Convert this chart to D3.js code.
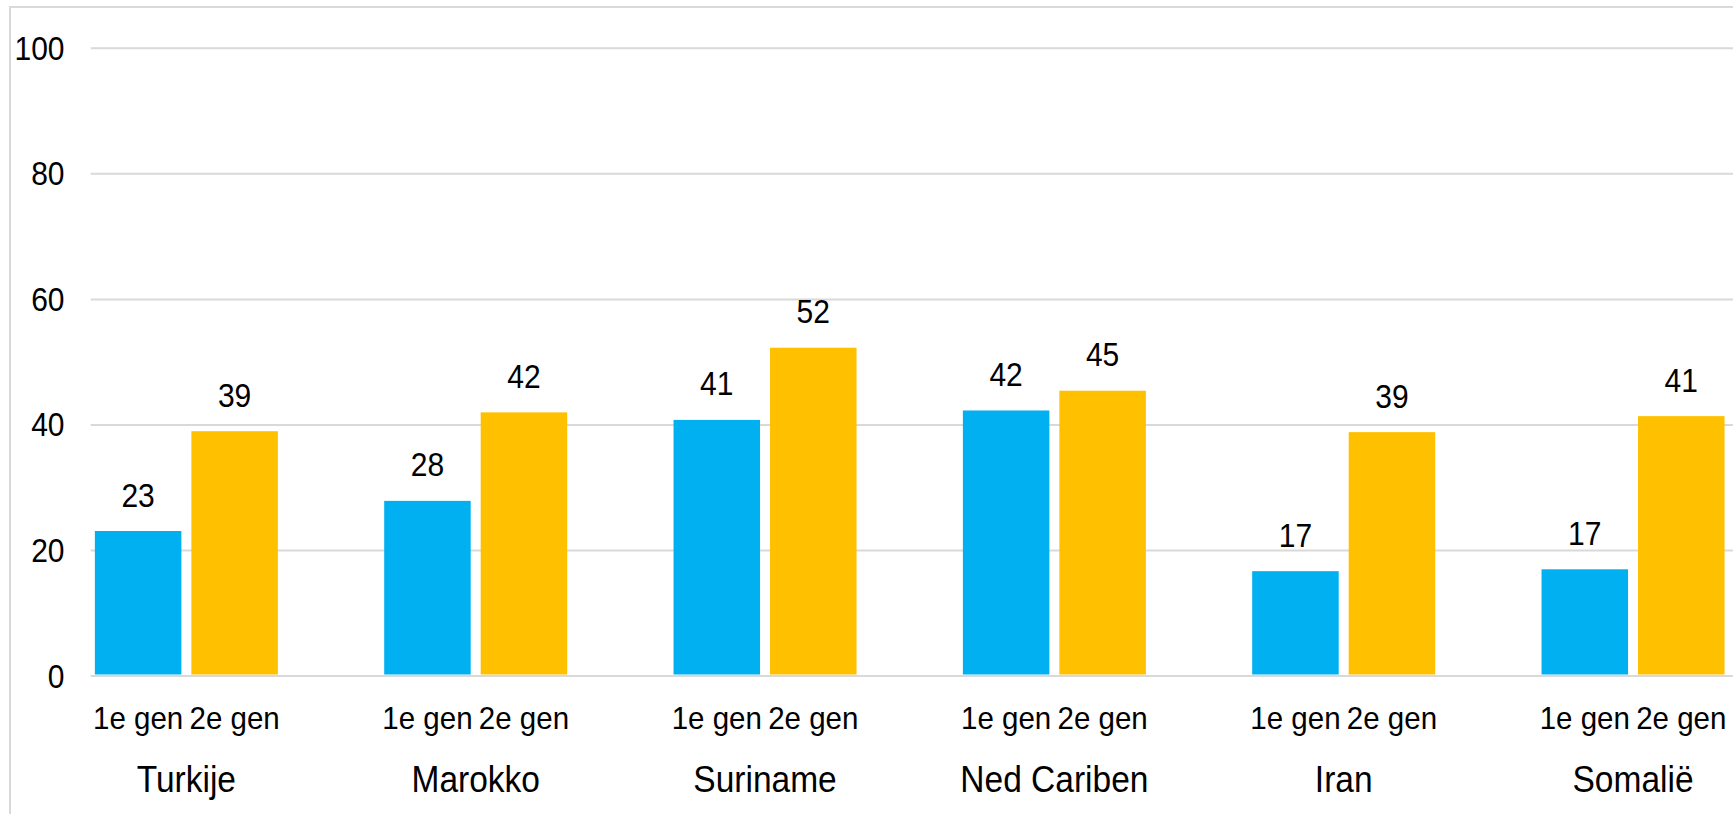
<!DOCTYPE html>
<html>
<head>
<meta charset="utf-8">
<script src="https://cdn.jsdelivr.net/npm/d3@7"></script>
<style>
  html, body { margin: 0; padding: 0; background: #fff; }
  svg { display: block; font-family: "Liberation Sans", Arial, sans-serif; }
</style>
</head>
<body>
<svg id="chart" width="1733" height="814"></svg>
<script>
const categories = ["Turkije", "Marokko", "Suriname", "Ned Cariben", "Iran", "Somalië"];
const seriesNames = ["1e gen", "2e gen"];
const gen1 = [23.1, 27.9, 40.8, 42.3, 16.7, 17.0];
const gen2 = [39.0, 42.0, 52.3, 45.45, 38.85, 41.4];
const yTicks = [0, 20, 40, 60, 80, 100];
const colors = ["#00B0F0", "#FFC000"];

const svg = d3.select("#chart");
const W = 1733, H = 814;
const SY = 1.08; // vertical stretch of glyphs seen in the reference

const y = d3.scaleLinear().domain([0, 100]).range([676, 48.3]);
const x0 = d3.scaleBand().domain(categories).range([41.7, 1777.7]).padding(0);
const inner = 183;
const gw = x0.bandwidth();
const x1 = d3.scaleBand().domain(seriesNames)
  .range([(gw - inner) / 2, (gw + inner) / 2]).paddingInner(0.1036).paddingOuter(0);

// chart border (left + top)
svg.append("path")
  .attr("d", `M10,${H} L10,7 L${W},7`)
  .attr("fill", "none").attr("stroke", "#d9d9d9").attr("stroke-width", 2);

// gridlines
svg.append("g").selectAll("line").data(yTicks).join("line")
  .attr("x1", 90.7).attr("x2", W)
  .attr("y1", d => y(d)).attr("y2", d => y(d))
  .attr("stroke", "#d9d9d9").attr("stroke-width", 2);

// y axis labels (via d3 axis)
const yAxis = d3.axisLeft(y).tickValues(yTicks).tickSize(0).tickPadding(0);
const gAxis = svg.append("g").attr("transform", "translate(64.5,0)").call(yAxis);
gAxis.select(".domain").remove();
gAxis.selectAll(".tick text")
  .attr("font-size", 30).attr("fill", "#000")
  .attr("font-family", "Liberation Sans, Arial, sans-serif")
  .attr("x", 0).attr("dy", null)
  .attr("y", 0)
  .attr("transform", `translate(0,11) scale(1,${SY})`);

const rows = categories.map((c, i) => ({ cat: c, vals: [gen1[i], gen2[i]] }));

const groups = svg.append("g").selectAll("g").data(rows).join("g")
  .attr("transform", d => `translate(${x0(d.cat)},0)`);

groups.selectAll("rect").data(d => d.vals.map((v, j) => ({ s: seriesNames[j], v, j })))
  .join("rect")
  .attr("x", d => x1(d.s))
  .attr("width", x1.bandwidth())
  .attr("y", d => y(d.v))
  .attr("height", d => y(0) - y(d.v) - 1.5)
  .attr("fill", d => colors[d.j]);

const fmt = d3.format(".0f");
groups.selectAll("text.val").data(d => d.vals.map((v, j) => ({ s: seriesNames[j], v, j })))
  .join("text").attr("class", "val")
  .attr("transform", d => `translate(${x1(d.s) + x1.bandwidth() / 2},${y(d.v) - 24.5}) scale(1,${SY})`)
  .attr("text-anchor", "middle")
  .attr("font-size", 30).attr("fill", "#000")
  .text(d => fmt(d.v));

groups.selectAll("text.ser").data(seriesNames)
  .join("text").attr("class", "ser")
  .attr("transform", d => `translate(${x1(d) + x1.bandwidth() / 2},729.3) scale(1,${SY})`)
  .attr("text-anchor", "middle")
  .attr("font-size", 29.5).attr("fill", "#000")
  .text(d => d);

groups.append("text")
  .attr("transform", `translate(${gw / 2},791.7) scale(1,${SY})`)
  .attr("text-anchor", "middle")
  .attr("font-size", 33.5).attr("fill", "#000")
  .text(d => d.cat);
</script>
</body>
</html>
